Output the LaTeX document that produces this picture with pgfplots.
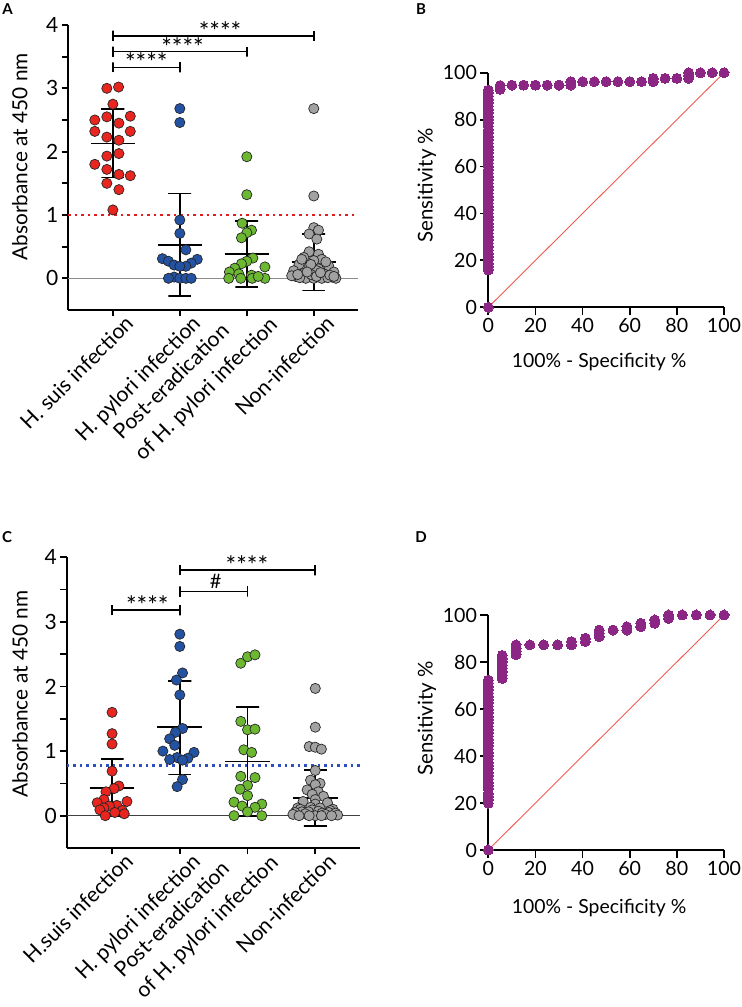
\documentclass[border=0pt]{standalone}
\usepackage{fontspec}
\setmainfont{Lato}
\usepackage{pgfplots}
\pgfplotsset{compat=1.18}
\usepackage{pgfplotstable}

\definecolor{ptred}{RGB}{232,37,30}
\definecolor{ptblue}{RGB}{36,82,163}
\definecolor{ptgreen}{RGB}{108,184,48}
\definecolor{ptgray}{RGB}{162,162,162}
\definecolor{rocpurple}{RGB}{139,38,132}
\definecolor{diag}{RGB}{240,90,80}
\definecolor{thrred}{RGB}{222,30,30}
\definecolor{thrblue}{RGB}{45,80,190}

\tikzset{sigtext/.style={anchor=base, font=\fontsize{12.5}{14}\selectfont, inner sep=0pt}}

% ---------- Panel A data ----------
\pgfplotstableread{
x y
-0.09 3.00
0.085 3.02
0 2.75
-0.27 2.50
-0.09 2.55
0.26 2.56
0.09 2.45
-0.27 2.32
-0.09 2.23
0.26 2.32
0.09 2.18
-0.09 1.93
0.09 1.97
-0.27 1.80
-0.09 1.72
0.09 1.64
0.26 1.62
-0.09 1.50
0.09 1.40
0 1.08
}\Ared
\pgfplotstableread{
x y
1 2.68
1 2.46
1 0.92
1 0.71
1.09 0.45
0.74 0.31
1.26 0.30
0.83 0.27
0.915 0.21
1.17 0.24
1.09 0.19
1 0.19
0.915 0.02
0.83 0.00
1 0.00
1.09 0.00
1.17 0.00
}\Ablue
\pgfplotstableread{
x y
2 1.92
2 1.32
1.93 0.87
2.07 0.76
2 0.72
1.92 0.64
2.09 0.32
2 0.27
1.92 0.23
2.27 0.18
1.82 0.16
1.74 0.10
1.88 0.07
2.07 0.05
1.73 0.00
1.91 0.00
2.08 0.00
2.27 0.00
2.17 0.03
}\Agreen
\pgfplotstableread{
x y
3 2.68
3 1.30
3 0.80
3.07 0.76
2.93 0.70
3.045 0.62
2.93 0.42
3.07 0.38
2.85 0.33
3.12 0.30
3 0.28
2.78 0.22
3.22 0.20
2.93 0.18
3.07 0.15
2.70 0.12
3.30 0.10
2.85 0.08
3.15 0.07
3 0.05
2.73 0.03
3.27 0.02
2.88 0.00
3.12 0.00
3 0.00
2.79 0.01
3.21 0.01
3.33 0.00
2.67 0.04
3.045 0.12
2.955 0.22
3.18 0.26
2.82 0.30
2.96 0.06
3.04 0.03
2.90 0.10
3.10 0.09
2.76 0.06
3.24 0.05
3.30 0.03
}\Agray

% ---------- Panel C data ----------
\pgfplotstableread{
x y
0 1.60
0 1.27
0 1.11
0 0.69
0.10 0.46
0.03 0.42
-0.09 0.37
-0.12 0.25
-0.22 0.20
0.22 0.22
0.07 0.16
-0.04 0.15
-0.12 0.12
-0.18 0.09
0.15 0.08
0.04 0.05
0.18 0.03
-0.10 0.00
}\Cred
\pgfplotstableread{
x y
1 2.81
1 2.62
1.04 2.21
0.95 2.10
1 1.87
1.04 1.35
0.935 1.29
0.85 1.19
0.925 1.09
0.75 1.00
1.21 0.98
0.96 0.90
1.12 0.89
0.85 0.87
1.04 0.86
1.04 0.56
0.96 0.45
}\Cblue
\pgfplotstableread{
x y
1.90 2.36
2 2.46
2.11 2.49
1.90 1.46
2 1.33
2.11 1.34
1.945 1.02
2.06 0.98
1.90 0.61
2.11 0.59
2 0.47
1.89 0.41
2 0.31
1.80 0.21
2.21 0.18
1.92 0.15
2.11 0.13
2 0.06
1.80 0.00
2.21 0.00
}\Cgreen
\pgfplotstableread{
x y
3 1.97
3 1.37
2.91 1.07
3 1.06
3.09 1.03
3 0.70
2.93 0.55
3.07 0.50
3 0.48
2.88 0.40
3.045 0.37
2.955 0.33
3.12 0.30
3.0 0.25
2.82 0.22
3.18 0.20
3 0.18
2.93 0.13
3.07 0.12
2.74 0.12
2.78 0.10
3.26 0.10
3.22 0.08
2.955 0.09
3.045 0.07
2.80 0.06
2.90 0.06
2.70 0.05
3.20 0.05
3.30 0.04
3.10 0.04
2.85 0.03
3.15 0.02
2.67 0.02
3.33 0.01
3 0.00
2.91 0.00
3.09 0.00
3.24 0.00
2.76 0.00
}\Cgray

% ---------- ROC data ----------
\pgfplotstableread{
x y
0 0
0 15.9
0 17.3
0 18.7
0 20.2
0 21.6
0 23.0
0 24.4
0 25.9
0 27.3
0 28.7
0 30.1
0 31.6
0 33.0
0 34.4
0 35.8
0 37.3
0 38.7
0 40.1
0 41.5
0 43.0
0 44.4
0 45.8
0 47.2
0 48.7
0 50.1
0 51.5
0 52.9
0 54.4
0 55.8
0 57.2
0 58.6
0 60.1
0 61.5
0 62.9
0 64.3
0 65.8
0 67.2
0 68.6
0 70.0
0 71.5
0 72.9
0 74.3
0 75.7
0 77.2
0 78.6
0 80.0
0 81.4
0 82.9
0 84.3
0 85.7
0 87.1
0 88.6
0 90.0
0 91.4
0 92.6
5 92.9
5 94.5
10 94.7
15 94.7
20 94.7
25 94.7
30 94.7
35 94.7
35 96.2
40 96.2
45 96.2
50 96.2
55 96.2
60 96.2
65 96.2
70 96.2
70 97.6
75 97.6
80 97.6
85 97.6
85 98.8
85 100
90 100
95 100
100 100
}\rocB
\pgfplotstableread{
x y
0 0
0 19.9
0 21.3
0 22.7
0 24.1
0 26.0
0 27.4
0 28.8
0 30.2
0 31.6
0 33.0
0 34.5
0 35.9
0 37.3
0 38.7
0 40.1
0 41.5
0 42.9
0 44.3
0 45.7
0 47.1
0 48.5
0 49.9
0 51.3
0 52.7
0 54.1
0 55.5
0 56.9
0 58.3
0 59.7
0 61.2
0 62.6
0 64.0
0 65.4
0 66.8
0 68.2
0 69.6
0 71.0
0 72.3
5.88 73.0
5.88 74.4
5.88 75.8
5.88 77.2
5.88 78.6
5.88 80.0
5.88 81.4
5.88 82.8
11.76 83.1
11.76 84.5
11.76 85.9
11.76 87.3
17.65 87.3
23.53 87.3
29.41 87.3
35.29 87.3
35.29 88.7
41.18 88.7
41.18 90.1
47.06 90.8
47.06 92.2
47.06 93.6
52.94 93.6
58.82 93.6
58.82 95.0
64.71 95.0
64.71 96.5
70.59 96.5
70.59 97.9
76.47 98.6
76.47 100
82.35 100
88.24 100
94.12 100
100 100
}\rocD

\pgfplotsset{
  dotplot/.style={
    scale only axis,
    xmin=-0.67, xmax=3.66, ymin=-0.5, ymax=4,
    axis x line*=bottom, axis y line*=left,
    axis line style={line width=0.9pt, -},
    xtick={0,1,3}, ytick={0,1,2,3,4}, minor ytick={0.5,1.5,2.5,3.5},
    extra x ticks={2},
    tick align=outside, major tick length=3.2pt, minor tick length=3.2pt,
    every tick/.style={black, line width=0.9pt},
    minor tick style={black, line width=0.9pt},
    /pgf/number format/assume math mode=true,
    yticklabel style={font=\fontsize{10.5}{12}\selectfont, inner sep=1.5pt},
    xticklabel style={rotate=45, anchor=north east,
      font=\fontsize{10.6}{15}\selectfont, inner sep=1pt,
      xshift=6pt, yshift=-2pt},
    extra x tick style={xticklabel style={align=left, xshift=3pt, yshift=11pt}},
    ylabel style={font=\fontsize{10.4}{12}\selectfont, anchor=center},
    clip=false,
  },
  pt/.style={only marks, mark=*, mark size=2.55pt,
    mark options={draw=black!85, line width=0.35pt, fill=#1}},
  bar/.style={black, line width=0.85pt, mark=none},
  sig/.style={black, line width=0.8pt, mark=none},
  roc/.style={
    scale only axis, width=117.85pt,
    xmin=0, xmax=100, ymin=0, ymax=100,
    axis x line*=bottom, axis y line*=left,
    axis line style={line width=0.9pt, -},
    xtick={0,20,...,100}, ytick={0,20,...,100},
    tick align=outside, major tick length=4pt,
    every tick/.style={black, line width=0.9pt},
    /pgf/number format/assume math mode=true,
    tick label style={font=\fontsize{9.8}{11}\selectfont, inner sep=1.5pt},
    xlabel style={font=\fontsize{9.7}{11}\selectfont, anchor=center},
    ylabel style={font=\fontsize{10.2}{11}\selectfont, anchor=center},
    xlabel={100\% - Specificity \%},
    ylabel={Sensitivity \%},
    clip=false,
  },
  rocpt/.style={only marks, mark=*, mark size=2.5pt,
    mark options={draw=rocpurple, fill=rocpurple, line width=0pt}},
}

\begin{document}
\begin{tikzpicture}
\path[use as bounding box] (0,0) rectangle (371pt,503.5pt);

% ================= Panel A =================
\begin{axis}[dotplot, at={(34pt,348.5pt)}, anchor=south west,
  width=145pt, height=142.5pt,
  xticklabels={H. suis infection, H. pylori infection, Non-infection},
  extra x tick labels={{Post-eradication\\of H. pylori infection}},
  ylabel={Absorbance at 450 nm},
  ylabel style={at={(axis description cs:-0.166,0.538)}},
]
\addplot[color=black!45, line width=0.6pt, mark=none] coordinates {(-0.67,0) (3.66,0)};
\addplot[color=thrred, line width=1.3pt, dotted, mark=none] coordinates {(-0.67,1) (3.66,1)};
\addplot[pt=ptred] table[x=x,y=y] {\Ared};
\addplot[pt=ptblue] table[x=x,y=y] {\Ablue};
\addplot[pt=ptgreen] table[x=x,y=y] {\Agreen};
\addplot[pt=ptgray] table[x=x,y=y] {\Agray};
% SD bars and means
\addplot[bar] coordinates {(-0.17,2.67) (0.17,2.67) (0,2.67) (0,1.59) (-0.17,1.59) (0.17,1.59)};
\addplot[bar] coordinates {(-0.33,2.13) (0.33,2.13)};
\addplot[bar] coordinates {(0.83,1.34) (1.17,1.34) (1,1.34) (1,-0.28) (0.83,-0.28) (1.17,-0.28)};
\addplot[bar] coordinates {(0.67,0.53) (1.33,0.53)};
\addplot[bar] coordinates {(1.83,0.90) (2.17,0.90) (2,0.90) (2,-0.14) (1.83,-0.14) (2.17,-0.14)};
\addplot[bar] coordinates {(1.67,0.38) (2.33,0.38)};
\addplot[bar] coordinates {(2.83,0.70) (3.17,0.70) (3,0.70) (3,-0.19) (2.83,-0.19) (3.17,-0.19)};
\addplot[bar] coordinates {(2.67,0.26) (3.33,0.26)};
% significance brackets
\addplot[sig] coordinates {(0,3.75) (0,3.91) (0,3.83) (3,3.83) (3,3.75) (3,3.91)};
\addplot[sig] coordinates {(0,3.50) (0,3.66) (0,3.58) (2,3.58) (2,3.50) (2,3.66)};
\addplot[sig] coordinates {(0,3.25) (0,3.41) (0,3.33) (1,3.33) (1,3.25) (1,3.41)};
\node[sigtext] at (axis cs:1.6,3.76) {****};
\node[sigtext] at (axis cs:1.04,3.51) {****};
\node[sigtext] at (axis cs:0.5,3.26) {****};
\end{axis}

% ================= Panel C =================
\begin{axis}[dotplot, at={(33.35pt,79.5pt)}, anchor=south west,
  width=146.65pt, height=145.35pt,
  xticklabels={H.suis infection, H. pylori infection, Non-infection},
  extra x tick labels={{Post-eradication\\of H. pylori infection}},
  ylabel={Absorbance at 450 nm},
  ylabel style={at={(axis description cs:-0.159,0.529)}},
]
\addplot[color=black!75, line width=0.6pt, mark=none] coordinates {(-0.67,0) (3.66,0)};
\addplot[color=thrblue, line width=1.3pt, dotted, mark=none] coordinates {(-0.67,0.78) (3.66,0.78)};
\addplot[pt=ptred] table[x=x,y=y] {\Cred};
\addplot[pt=ptblue] table[x=x,y=y] {\Cblue};
\addplot[pt=ptgreen] table[x=x,y=y] {\Cgreen};
\addplot[pt=ptgray] table[x=x,y=y] {\Cgray};
\addplot[bar] coordinates {(-0.17,0.88) (0.17,0.88) (0,0.88) (0,-0.01) (-0.17,-0.01) (0.17,-0.01)};
\addplot[bar] coordinates {(-0.33,0.43) (0.33,0.43)};
\addplot[bar] coordinates {(0.83,2.08) (1.17,2.08) (1,2.08) (1,0.64) (0.83,0.64) (1.17,0.64)};
\addplot[bar] coordinates {(0.67,1.37) (1.33,1.37)};
\addplot[bar] coordinates {(1.83,1.68) (2.17,1.68) (2,1.68) (2,0.0) (1.83,0.0) (2.17,0.0)};
\addplot[bar] coordinates {(1.67,0.84) (2.33,0.84)};
\addplot[bar] coordinates {(2.83,0.71) (3.17,0.71) (3,0.71) (3,-0.16) (2.83,-0.16) (3.17,-0.16)};
\addplot[bar] coordinates {(2.67,0.27) (3.33,0.27)};
\addplot[sig] coordinates {(0,3.10) (0,3.26) (0,3.18) (1,3.18) (1,3.10) (1,3.26)};
\addplot[sig] coordinates {(1,3.39) (1,3.55) (1,3.47) (2,3.47) (2,3.39) (2,3.55)};
\addplot[sig] coordinates {(1,3.72) (1,3.88) (1,3.80) (3,3.80) (3,3.72) (3,3.88)};
\node[sigtext] at (axis cs:0.52,3.12) {****};
\node[anchor=base, font=\fontsize{10}{12}\selectfont, inner sep=0pt] at (axis cs:1.53,3.52) {\#};
\node[sigtext] at (axis cs:1.99,3.74) {****};
\end{axis}

% ================= Panel B =================
\begin{axis}[roc, at={(244.15pt,349.85pt)}, anchor=south west, height=117.3pt,
  xlabel style={at={(axis description cs:0.47,-0.232)}},
  ylabel style={at={(axis description cs:-0.261,0.521)}},
]
\addplot[rocpt] table[x=x,y=y] {\rocB};
\addplot[diag, line width=0.45pt, mark=none] coordinates {(0,0) (100,100)};
\end{axis}

% ================= Panel D =================
\begin{axis}[roc, at={(244.15pt,78.5pt)}, anchor=south west, height=117.5pt,
  xlabel style={at={(axis description cs:0.47,-0.247)}},
  ylabel style={at={(axis description cs:-0.261,0.56)}},
]
\addplot[rocpt] table[x=x,y=y] {\rocD};
\addplot[diag, line width=0.45pt, mark=none] coordinates {(0,0) (100,100)};
\end{axis}

% panel letters
\node[font=\bfseries\fontsize{7.5}{9}\selectfont] at (3.75pt,499pt) {A};
\node[font=\bfseries\fontsize{7.5}{9}\selectfont] at (210.5pt,499pt) {B};
\node[font=\bfseries\fontsize{7.5}{9}\selectfont] at (3.5pt,235pt) {C};
\node[font=\bfseries\fontsize{7.5}{9}\selectfont] at (210.5pt,235pt) {D};
\end{tikzpicture}
\end{document}
